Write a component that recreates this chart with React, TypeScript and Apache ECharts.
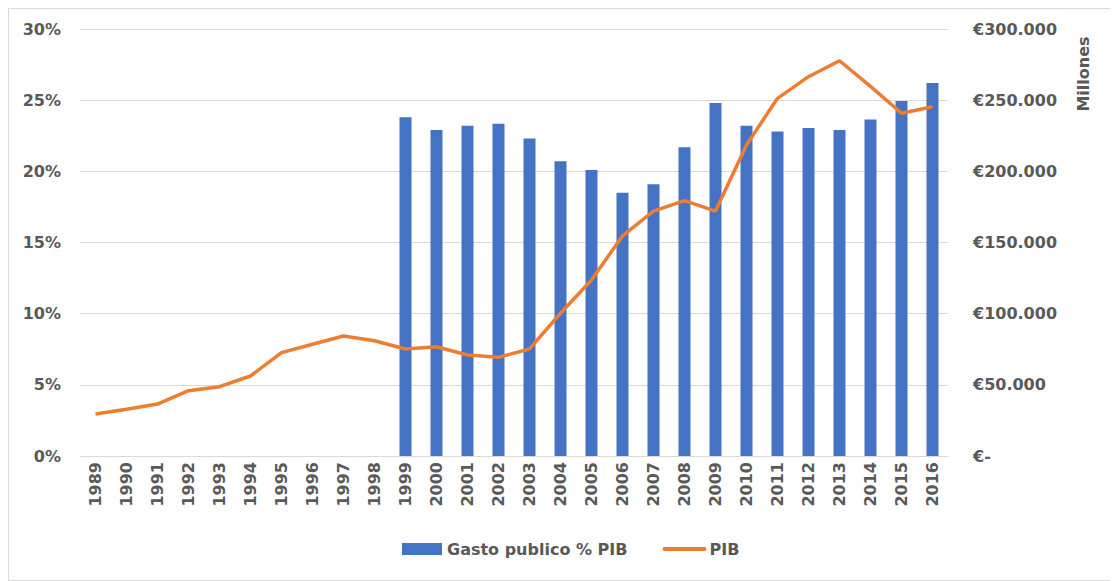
import React, { useEffect, useRef } from "react";
import * as echarts from "echarts";

const years = [
  "1989", "1990", "1991", "1992", "1993", "1994", "1995", "1996", "1997", "1998",
  "1999", "2000", "2001", "2002", "2003", "2004", "2005", "2006", "2007", "2008",
  "2009", "2010", "2011", "2012", "2013", "2014", "2015", "2016",
];

// Gasto publico % PIB (percent)
const gastoPct: (number | null)[] = [
  null, null, null, null, null, null, null, null, null, null,
  23.8, 22.9, 23.2, 23.35, 22.3, 20.7, 20.1, 18.5, 19.1, 21.7,
  24.8, 23.2, 22.8, 23.05, 22.9, 23.65, 24.95, 26.2,
];

// PIB (millones de euros)
const pib: number[] = [
  29500, 32800, 36500, 45900, 48700, 56200, 72600, 78500, 84300, 81000,
  75200, 76800, 71000, 69300, 75200, 100300, 123700, 154600, 172100, 179400,
  172100, 218500, 251300, 266500, 277700, 259700, 240800, 245400,
];

const leftTicks = [0, 5, 10, 15, 20, 25, 30];

const FONT = "DejaVu Sans";
const TXT = "#595959";

function fmtEuro(v: number): string {
  if (v === 0) return "€-";
  const s = Math.round(v).toString().replace(/\B(?=(\d{3})+(?!\d))/g, ".");
  return "€" + s;
}

export default function App() {
  const ref = useRef<HTMLDivElement>(null);

  useEffect(() => {
    if (!ref.current) return;
    const chart = echarts.init(ref.current, null, { renderer: "svg" });
    chart.setOption({
      animation: false,
      backgroundColor: "#ffffff",
      textStyle: { fontFamily: FONT },
      grid: { left: 71, right: 169, top: 20, bottom: 124 },
      legend: {
        left: 388,
        top: 527,
        itemWidth: 40,
        itemHeight: 12,
        itemGap: 35,
        textStyle: { fontFamily: FONT, fontSize: 16, fontWeight: "bold", color: TXT },
        data: [
          { name: "Gasto publico % PIB", icon: "rect" },
          {
            name: "PIB",
            itemStyle: { opacity: 0 },
            lineStyle: { color: "#ED7D31", width: 4, cap: "round" },
          },
        ],
      },
      xAxis: {
        type: "category",
        data: years,
        axisLine: { show: true, lineStyle: { color: "#d9d9d9", width: 1 } },
        axisTick: { show: false },
        axisLabel: {
          rotate: 90,
          margin: 6,
          fontFamily: FONT,
          fontSize: 16,
          fontWeight: "bold",
          color: TXT,
          interval: 0,
        },
      },
      yAxis: [
        {
          type: "value",
          min: leftTicks[0],
          max: leftTicks[leftTicks.length - 1],
          interval: 5,
          axisLine: { show: false },
          axisTick: { show: false },
          splitLine: { lineStyle: { color: "#d9d9d9", width: 1 } },
          axisLabel: {
            margin: 19,
            fontFamily: FONT,
            fontSize: 16,
            fontWeight: "bold",
            color: TXT,
            formatter: (v: number) => v + "%",
          },
        },
        {
          type: "value",
          min: 0,
          max: 300000,
          interval: 50000,
          position: "right",
          axisLine: { show: false },
          axisTick: { show: false },
          splitLine: { show: false },
          axisLabel: {
            margin: 25,
            fontFamily: FONT,
            fontSize: 16,
            fontWeight: "bold",
            color: TXT,
            formatter: (v: number) => fmtEuro(v),
          },
        },
      ],
      series: [
        {
          name: "Gasto publico % PIB",
          type: "bar",
          yAxisIndex: 0,
          data: gastoPct,
          barWidth: 12,
          itemStyle: { color: "#4472C4" },
        },
        {
          name: "PIB",
          type: "line",
          yAxisIndex: 1,
          data: pib,
          symbol: "none",
          lineStyle: { color: "#ED7D31", width: 3.5 },
          itemStyle: { color: "#ED7D31" },
        },
      ],
      graphic: [
        {
          type: "text",
          x: 1074,
          y: 65,
          rotation: Math.PI / 2,
          style: {
            text: "Millones",
            fontFamily: FONT,
            fontSize: 16,
            fontWeight: "bold",
            fill: TXT,
            align: "center",
            verticalAlign: "middle",
          },
        },
      ],
    });
    return () => chart.dispose();
  }, []);

  return (
    <div
      ref={ref}
      style={{
        width: 1110,
        height: 573,
        border: "1px solid #d9d9d9",
        boxSizing: "border-box",
      }}
    />
  );
}
